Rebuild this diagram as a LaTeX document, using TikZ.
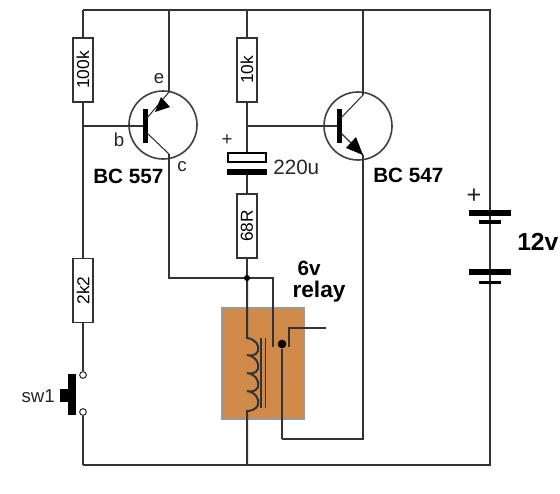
\documentclass[tikz,border=0pt]{standalone}
\usepackage{fontspec}
\setmainfont{Liberation Sans}
\usetikzlibrary{calc}
\definecolor{relayc}{HTML}{D08B4B}
\tikzset{
  x=0.75pt,y=-0.75pt,
  wire/.style={line width=1.5pt,draw=black!80},
  thin wire/.style={line width=0.8pt,draw=black!80},
  res/.style={draw=black!80,line width=1pt,fill=white,minimum width=48pt,minimum height=15pt,inner sep=0pt,rotate=90,font=\fontsize{13}{14}\selectfont},
  lab/.style={inner sep=0pt,text=black!85,font=\fontsize{14}{15}\selectfont},
  boldlab/.style={inner sep=0pt,text=black,font=\fontsize{15.5}{16}\selectfont\bfseries},
  tcircle/.style={circle,draw=black!75,line width=1.2pt,fill=white,minimum size=51pt,inner sep=0pt},
  dot/.style={circle,fill=black,inner sep=0pt},
  contact/.style={circle,draw=black!80,line width=0.8pt,fill=white,minimum size=5pt,inner sep=0pt},
}
\begin{document}
\begin{tikzpicture}
\useasboundingbox (0,0) rectangle (560,493);
\fill[white] (0,0) rectangle (560,493);
% corner and junction coordinates
\coordinate (tl) at (83,10);
\coordinate (tr) at (490,10);
\coordinate (bl) at (83,465);
\coordinate (br) at (490,465);
\coordinate (te) at (169,10);
\coordinate (tm) at (247,10);
\coordinate (tc) at (363,10);
\coordinate (bm) at (247,465);
\coordinate (jb) at (83,126);
\coordinate (jm) at (247,126);
% transistor bodies
\node[tcircle] (q1) at (163,125) {};
\node[tcircle] (q2) at (358,126) {};
% relay box
\node[draw=black!40,fill=relayc,line width=1.5pt,minimum width=61.5pt,minimum height=83pt,inner sep=0pt] (relay) at (262.5,363.5) {};
% outer wiring
\draw[wire] (bl) -- (br) -- (tr) -- (tl);
\coordinate (q1e) at (169,92);
\coordinate (q1c) at (169,154);
\coordinate (q2c) at (363,95);
\coordinate (q2e) at (363,155);
\coordinate (j1) at (247,278);
\coordinate (k1) at (273,278);
\coordinate (k2) at (273,347);
\coordinate (c1) at (169,278);
\coordinate (p1) at (282,439);
\coordinate (p2) at (363,439);
\draw[wire] (te) -- (q1e);
\draw[wire] (q1c) -- (c1) -- (j1) -- (k1) -- (k2);
\draw[wire] (tc) -- (q2c);
\draw[wire] (q2e) -- (p2) -- (p1);
% resistors
\node[res] (r1) at (83,70) {100k};
\node[res] (r2) at (83,290.5) {2k2};
\node[res] (r3) at (247,70) {10k};
\node[res] (r4) at (247,226) {68R};
% left rail
\node[contact] (s1) at (83,375) {};
\node[contact] (s2) at (83,412) {};
\draw[wire] (tl) -- (r1.east);
\draw[wire] (r1.west) -- (r2.east);
\draw[wire] (r2.west) -- (s1);
\draw[wire] (s2) -- (bl);
% switch
\fill[black] (68,374) rectangle (76,415);
\fill[black] (60,389) rectangle (68,402);
\node[lab,anchor=east] (sw) at (55,396) {sw1};
% transistor 1 inner
\fill[black] (142.5,109) rectangle (147.5,143);
\draw[wire] (jb) -- (142.5,126);
\draw[thin wire] (147,118) -- (q1e);
\draw[thin wire] (147,133) -- (q1c);
\fill[black] (155,112) -- (161,97) -- (170,107) -- cycle;
\node[lab] (le) at (159,79) {e};
\node[lab] (lb) at (119,140) {b};
\node[lab] (lc) at (182,167) {c};
\node[boldlab,anchor=west] (n1) at (93,176) {BC 557};
% capacitor + middle rail
\draw[wire] (tm) -- (r3.east);
\draw[wire] (r3.west) -- (247,152);
\draw[wire] (247,175) -- (r4.east);
\draw[wire] (r4.west) -- (j1);
\draw[line width=2pt,draw=black,fill=white] (228,153) rectangle (266,162);
\fill[black] (227,169) rectangle (267,175);
\node[lab] (cp) at (227,140) {+};
\node[lab,anchor=west,font=\fontsize{15.5}{16}\selectfont] (cv) at (273,167) {220u};
% transistor 2 inner
\fill[black] (336.5,109) rectangle (341.5,143);
\draw[thin wire,line width=1.1pt] (jm) -- (336.5,126);
\draw[thin wire] (341,118) -- (q2c);
\draw[thin wire] (341,133) -- (q2e);
\fill[black] (363,155) -- (346,148) -- (356,137) -- cycle;
\node[boldlab,anchor=west] (n2) at (373,175) {BC 547};
% relay inner
\draw[wire] (j1) -- (247,338)
  .. controls (255,339) and (260,345) .. (258,351) .. controls (256,356) and (250,356) .. (247,355)
  .. controls (255,356) and (260,363) .. (258,369) .. controls (256,374) and (250,374) .. (247,373)
  .. controls (255,374) and (260,381) .. (258,387) .. controls (256,392) and (250,392) .. (247,391)
  .. controls (255,392) and (260,399) .. (258,405) .. controls (256,410) and (250,411) .. (247,411)
  -- (bm);
\draw[thin wire,line width=1pt] (261,338) -- (261,408);
\draw[thin wire,line width=1pt] (265.5,338) -- (265.5,408);
\node[dot,minimum size=6.5pt] (j2) at (282,344) {};
\draw[wire] (j2) -- (p1);
\draw[wire] (289,347) -- (289,328) -- (326,328);
\node[dot,minimum size=4.5pt] (j1d) at (j1) {};
\node[boldlab] (rl1) at (309,268) {6v};
\node[boldlab,font=\fontsize{17}{18}\selectfont\bfseries] (rl2) at (319,292) {relay};
% battery
\draw[wire] (tr) -- (490,210);
\fill[black] (469,210) rectangle (511,215.5);
\fill[black] (478.5,220) rectangle (501,223.5);
\draw[wire] (490,227) -- (490,237);
\draw[wire] (490,242) -- (490,252);
\draw[wire] (490,257) -- (490,265);
\fill[black] (469,269) rectangle (511,275);
\fill[black] (478.5,280.5) rectangle (501,284);
\draw[wire] (490,284) -- (br);
\node[lab,font=\fontsize{19}{20}\selectfont] (bp) at (474,196) {+};
\node[boldlab,anchor=west,font=\fontsize{18.5}{19}\selectfont\bfseries] (bv) at (517,242) {12v};
\end{tikzpicture}
\end{document}
